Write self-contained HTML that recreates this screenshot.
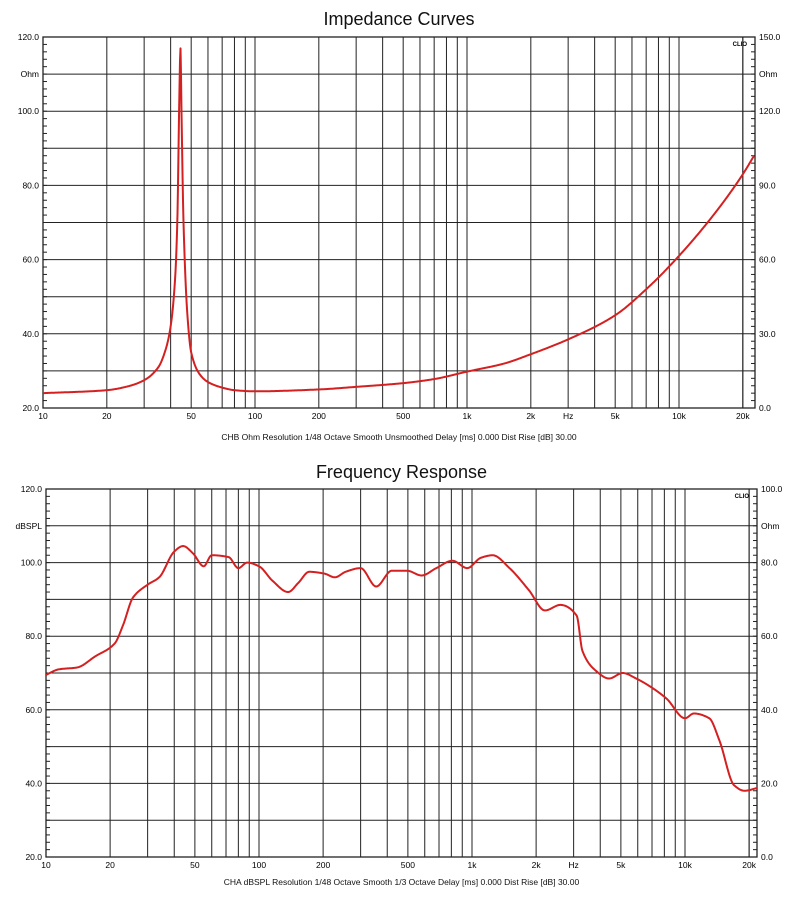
<!DOCTYPE html>
<html><head><meta charset="utf-8"><style>
body{margin:0;background:#fff;}
svg{display:block;font-family:"Liberation Sans",sans-serif;}
</style></head><body>
<svg id="s" width="800" height="911" xmlns="http://www.w3.org/2000/svg"></svg>
<script>
const s=document.getElementById('s');let h='';let cid=0;
function mono(xs,ys){const n=xs.length,d=[],m=new Array(n);
 for(let i=0;i<n-1;i++)d.push((ys[i+1]-ys[i])/(xs[i+1]-xs[i]));
 m[0]=d[0];m[n-1]=d[n-2];
 for(let i=1;i<n-1;i++){if(d[i-1]*d[i]<=0)m[i]=0;else{const w1=2*(xs[i+1]-xs[i])+(xs[i]-xs[i-1]),w2=(xs[i+1]-xs[i])+2*(xs[i]-xs[i-1]);m[i]=(w1+w2)/(w1/d[i-1]+w2/d[i]);}}
 return x=>{let i=0;while(i<n-2&&x>xs[i+1])i++;const hh=xs[i+1]-xs[i],t=(x-xs[i])/hh;
  const h00=2*t*t*t-3*t*t+1,h10=t*t*t-2*t*t+t,h01=-2*t*t*t+3*t*t,h11=t*t*t-t*t;
  return h00*ys[i]+h10*hh*m[i]+h01*ys[i+1]+h11*hh*m[i+1];};}
function chart(o){
 const {L,T,R,B,title,ty,cap,cy,lmin,lmax,rmin,rmax,ll,rl,data,dec}=o;
 const X=f=>L+(Math.log10(f)-1)*dec;
 const Y=v=>B-(v-lmin)/(lmax-lmin)*(B-T);
 h+=`<text x="${(L+R)/2}" y="${ty}" font-size="18" text-anchor="middle" fill="#111">${title}</text>`;
 h+=`<text x="${(L+R)/2}" y="${cy}" font-size="8.5" text-anchor="middle" fill="#111">${cap}</text>`;
 for(let v=lmin+10;v<lmax;v+=10){h+=`<line x1="${L}" x2="${R}" y1="${Y(v)}" y2="${Y(v)}" stroke="#222" stroke-width="1"/>`;}
 const fs=[];for(const d of [10,100,1000,10000])for(let k=1;k<10;k++)fs.push(d*k);fs.push(20000);
 fs.forEach(f=>{if(f>10&&X(f)<R)h+=`<line x1="${X(f)}" x2="${X(f)}" y1="${T}" y2="${B}" stroke="#222" stroke-width="1"/>`;});
 for(let v=lmin+2;v<lmax;v+=2){const y=Y(v);h+=`<line x1="${L}" x2="${L+4}" y1="${y}" y2="${y}" stroke="#222"/><line x1="${R-4}" x2="${R}" y1="${y}" y2="${y}" stroke="#222"/>`;}
 h+=`<rect x="${L}" y="${T}" width="${R-L}" height="${B-T}" fill="none" stroke="#222" stroke-width="1.3"/>`;
 for(let i=0;i<=5;i++){const v=lmin+i*20,y=Y(v);h+=`<text x="${L-4}" y="${y+3}" font-size="8.5" text-anchor="end">${v.toFixed(1)}</text>`;
  const rv=rmin+i*(rmax-rmin)/5;h+=`<text x="${R+4}" y="${y+3}" font-size="8.5">${rv.toFixed(1)}</text>`;}
 h+=`<text x="${L-4}" y="${Y(lmax-10)+3}" font-size="8.5" text-anchor="end">${ll}</text>`;
 h+=`<text x="${R+4}" y="${Y(lmax-10)+3}" font-size="8.5">${rl}</text>`;
 h+=`<text x="${R-8}" y="${T+9}" font-size="6" font-weight="bold" text-anchor="end">CLIO</text>`;
 const xl=[[10,'10'],[20,'20'],[50,'50'],[100,'100'],[200,'200'],[500,'500'],[1000,'1k'],[2000,'2k'],[5000,'5k'],[10000,'10k'],[20000,'20k']];
 xl.forEach(([f,t])=>{h+=`<text x="${X(f)}" y="${B+11}" font-size="8.5" text-anchor="middle">${t}</text>`;});
 h+=`<text x="${X(3000)}" y="${B+11}" font-size="8.5" text-anchor="middle">Hz</text>`;
 const xs=data.map(d=>X(d[0])),ys=data.map(d=>Y(d[1]));const fn=mono(xs,ys);
 const pts=[];for(let x=xs[0];x<=xs[xs.length-1];x+=0.5)pts.push([x,fn(x)]);
 cid++;h+=`<clipPath id="c${cid}"><rect x="${L}" y="${T}" width="${R-L}" height="${B-T}"/></clipPath>`;
 const p=pts.map((q,i)=>(i?'L':'M')+q[0].toFixed(1)+' '+q[1].toFixed(1)).join('');
 h+=`<path clip-path="url(#c${cid})" d="${p}" fill="none" stroke="#d42020" stroke-width="2" stroke-linejoin="round"/>`;
}
chart({L:43,T:37,R:755,B:408,dec:212,title:'Impedance Curves',ty:25,cap:'CHB Ohm  Resolution 1/48 Octave  Smooth Unsmoothed  Delay [ms] 0.000  Dist Rise [dB] 30.00',cy:440,
lmin:20,lmax:120,rmin:0,rmax:150,ll:'Ohm',rl:'Ohm',
data:[[10,24],[20,24.8],[25,25.8],[30,27.5],[35,31],[38,36],[40,42],[42,55],[43,70],[44,105],[44.5,117],[45,100],[46,70],[48,45],[50,35],[55,29],[60,27],[70,25.5],[80,24.8],[100,24.5],[200,25],[300,25.7],[500,26.7],[700,27.8],[1000,29.8],[1500,32],[2000,34.5],[3000,38.5],[5000,45],[7000,52],[10000,61],[15000,73],[20000,83],[22600,88]]});
chart({L:46,T:489,R:757,B:857,dec:213,title:'Frequency Response',ty:478,cap:'CHA dBSPL  Resolution 1/48 Octave  Smooth 1/3 Octave  Delay [ms] 0.000  Dist Rise [dB] 30.00',cy:885,
lmin:20,lmax:120,rmin:0,rmax:100,ll:'dBSPL',rl:'Ohm',
data:[[10,69.5],[11.5,71],[14,71.5],[17,74.5],[21,78],[23,83],[25.6,90.5],[30,94],[34,96],[40,103],[44,104.5],[49,102.5],[55,99],[60,102],[72,101.5],[80,98.5],[88,100],[100,99],[116,95],[137,92],[153,94.5],[172,97.5],[203,97],[227,96],[255,97.5],[300,98.5],[355,93.5],[420,97.8],[495,97.8],[580,96.5],[680,98.5],[810,100.5],[950,98.5],[1100,101.3],[1250,102],[1500,98.5],[1850,92.5],[2200,87],[2600,88.5],[3100,85.6],[3300,76],[3800,70.7],[4400,68.5],[5100,70],[5900,68.5],[7000,66],[8200,63],[10000,57.7],[11000,59],[13000,57.7],[14500,51.7],[17000,39.5],[19000,38],[22500,39]]});
s.innerHTML=h;
</script>
</body></html>
